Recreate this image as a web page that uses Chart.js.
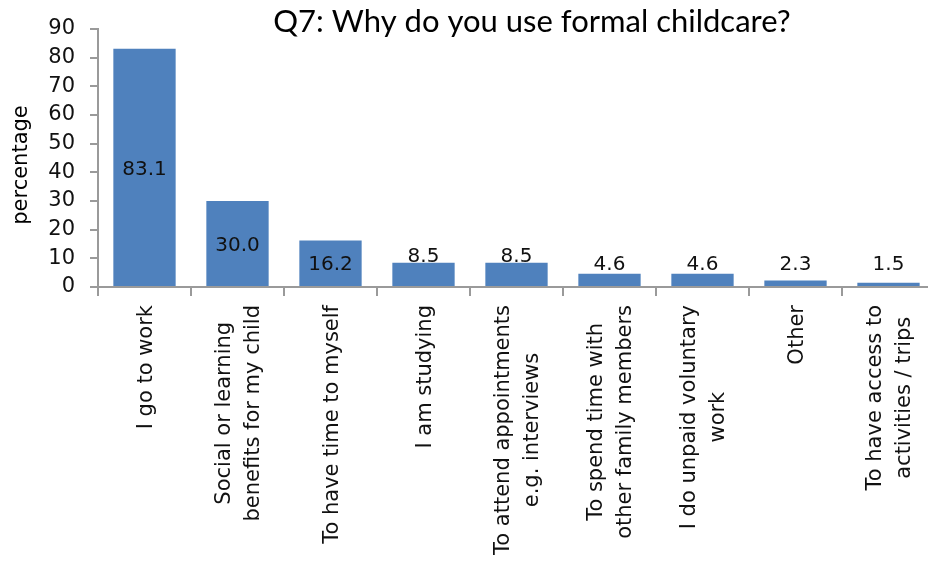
<!DOCTYPE html>
<html>
<head>
<meta charset="utf-8">
<title>Q7 formal childcare</title>
<script src="https://cdn.jsdelivr.net/npm/chart.js@4/dist/chart.umd.min.js"></script>
<style>
  html, body { margin: 0; padding: 0; background: #fff; overflow: hidden; }
  #wrap { width: 928px; height: 569px; overflow: hidden; }
</style>
</head>
<body>
<div id="wrap"><canvas id="q7Chart" width="936" height="569"></canvas></div>
<script>
// ---- data ----
const chartTitle = 'Q7: Why do you use formal childcare?';
const axisTitle = 'percentage';

// multi-line category labels (drawn rotated, lines centred)
const categories = [
    ['I go to work'],
    ['Social or learning', 'benefits for my child'],
    ['To have time to myself'],
    ['I am studying'],
    ['To attend appointments', 'e.g. interviews'],
    ['To spend time with', 'other family members'],
    ['I do unpaid voluntary', 'work'],
    ['Other'],
    ['To have access to', 'activities / trips']
];
const percentValues = [83.1, 30.0, 16.2, 8.5, 8.5, 4.6, 4.6, 2.3, 1.5];
const yTickValues = [0, 10, 20, 30, 40, 50, 60, 70, 80, 90];

const barColor = '#4F81BD';
const axisColor = '#9a9a9a';
const textColor = '#111';
const smallFont = '"DejaVu Sans", Verdana, sans-serif';

// ---- plugin: title, axis title, category labels, value labels ----
const excelLabels = {
    id: 'excelLabels',
    afterDraw(chart) {
        const ctx = chart.ctx;
        const xs = chart.scales.x;
        const ys = chart.scales.y;
        const area = chart.chartArea;

        ctx.save();
        ctx.fillStyle = '#000';

        // chart title
        ctx.font = '31px Lato, "Open Sans", sans-serif';
        ctx.textAlign = 'center';
        ctx.textBaseline = 'middle';
        ctx.fillText(chartTitle, 532, 22);

        // y axis title
        ctx.font = '21px ' + smallFont;
        ctx.save();
        ctx.translate(22, 165);
        ctx.rotate(-Math.PI / 2);
        ctx.fillText(axisTitle, 0, 0);
        ctx.restore();

        // category labels, rotated, top edge just under the axis
        ctx.fillStyle = textColor;
        const lineH = 29;
        const labelTop = area.bottom + 18;
        categories.forEach((lines, i) => {
            const cx = xs.getPixelForValue(i) + 2;
            const maxW = Math.max(...lines.map(l => ctx.measureText(l).width));
            ctx.save();
            ctx.translate(cx, labelTop + maxW / 2);
            ctx.rotate(-Math.PI / 2);
            lines.forEach((line, j) => {
                ctx.fillText(line, 0, (j - (lines.length - 1) / 2) * lineH);
            });
            ctx.restore();
        });

        // value labels: inside the tall bars, above the short ones
        ctx.font = '20px ' + smallFont;
        const meta = chart.getDatasetMeta(0);
        meta.data.forEach((bar, i) => {
            const v = percentValues[i];
            const txt = v.toFixed(1);
            if (v > 10) {
                ctx.textBaseline = 'middle';
                ctx.fillText(txt, bar.x, (bar.y + bar.base) / 2 + 2);
            } else {
                ctx.textBaseline = 'alphabetic';
                const baseY = Math.min(bar.y - 1, ys.getPixelForValue(6));
                ctx.fillText(txt, bar.x, baseY);
            }
        });
        ctx.restore();
    }
};

const ctx = document.getElementById('q7Chart').getContext('2d');
new Chart(ctx, {
    type: 'bar',
    data: {
        labels: categories,
        datasets: [{
            data: percentValues,
            backgroundColor: barColor,
            borderWidth: 0,
            barPercentage: 0.67,
            categoryPercentage: 1.0
        }]
    },
    options: {
        responsive: false,
        animation: false,
        events: [],
        layout: { padding: { top: 29, right: 1, left: 0, bottom: 0 } },
        plugins: {
            legend: { display: false },
            title: { display: false },
            tooltip: { enabled: false }
        },
        scales: {
            x: {
                grid: {
                    offset: true,
                    drawOnChartArea: false,
                    drawTicks: true,
                    tickLength: 9,
                    color: axisColor,
                    lineWidth: 2
                },
                border: { display: true, color: axisColor, width: 2 },
                ticks: { display: false },
                afterFit(scale) { scale.height = 282; }
            },
            y: {
                min: 0,
                max: 90,
                afterBuildTicks(scale) {
                    scale.ticks = yTickValues.map(v => ({ value: v }));
                },
                grid: {
                    drawOnChartArea: false,
                    drawTicks: true,
                    tickLength: 8,
                    color: axisColor,
                    lineWidth: 2
                },
                border: { display: true, color: axisColor, width: 2 },
                ticks: {
                    padding: 15,
                    color: textColor,
                    font: { family: smallFont, size: 21 }
                },
                afterFit(scale) { scale.width = 98; }
            }
        }
    },
    plugins: [excelLabels]
});
</script>
</body>
</html>
